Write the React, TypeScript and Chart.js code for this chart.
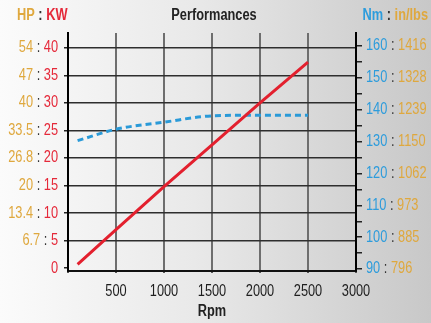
import React, { useEffect, useRef } from "react";
import { Chart, registerables } from "chart.js";

Chart.register(...registerables);

// ---- data ----
const RPM = [100, 500, 1000, 1500, 2000, 2500];
const POWER_KW = [0.7, 7, 14.8, 22.4, 30, 37.4];
const TORQUE_NM = [130.3, 133.9, 136.1, 138.1, 138.3, 138.3];

const X_TICKS = [500, 1000, 1500, 2000, 2500, 3000];
const KW_TICKS = [0, 5, 10, 15, 20, 25, 30, 35, 40];
const HP_LABELS = ["", "6.7", "13.4", "20", "26.8", "33.5", "40", "47", "54"];
const NM_TICKS = [90, 100, 110, 120, 130, 140, 150, 160];
const INLBS_LABELS = ["796", "885", "973", "1062", "1150", "1239", "1328", "1416"];

const TITLE = "Performances";
const X_TITLE = "Rpm";

const FONT = '"Liberation Sans", Arial, sans-serif';
const SX = 0.8; // horizontal condensation of the text
const GOLD = "#dfa83e";
const RED = "#e5293a";
const BLUE = "#2d9cdc";
const DARK = "#333333";

const bgPlugin = {
  id: "bgPlugin",
  beforeDraw(chart: any) {
    const { ctx, width, height } = chart;
    ctx.save();
    const g = ctx.createLinearGradient(0, 0, width, 0);
    g.addColorStop(0, "#fbfbfb");
    g.addColorStop(0.45, "#e9e9e9");
    g.addColorStop(1, "#c8c8c8");
    ctx.fillStyle = g;
    ctx.fillRect(0, 0, width, height);
    ctx.restore();
  },
};

function drawParts(ctx: any, parts: [string, string][], x: number, y: number, align: "left" | "right" | "center") {
  const widths = parts.map((p) => ctx.measureText(p[0]).width * SX);
  const total = widths.reduce((a, b) => a + b, 0);
  let cx = align === "left" ? x : align === "right" ? x - total : x - total / 2;
  parts.forEach((p, i) => {
    ctx.save();
    ctx.translate(cx, y);
    ctx.scale(SX, 1);
    ctx.textAlign = "left";
    ctx.fillStyle = p[1];
    ctx.fillText(p[0], 0, 0);
    ctx.restore();
    cx += widths[i];
  });
}

const textPlugin = {
  id: "textPlugin",
  afterDraw(chart: any) {
    const { ctx, chartArea } = chart;
    const xS = chart.scales.x;
    const yS = chart.scales.y;
    const y1S = chart.scales.y1;
    ctx.save();
    ctx.textBaseline = "middle";
    ctx.font = `16px ${FONT}`;
    KW_TICKS.forEach((v, i) => {
      const py = yS.getPixelForValue(v);
      const hp = HP_LABELS[i];
      const parts: [string, string][] = hp
        ? [[hp, GOLD], [" : ", DARK], [String(v), RED]]
        : [[String(v), RED]];
      drawParts(ctx, parts, 58, py, "right");
    });
    NM_TICKS.forEach((v, i) => {
      const py = y1S.getPixelForValue(v);
      drawParts(ctx, [[String(v), BLUE], [" : ", DARK], [INLBS_LABELS[i], GOLD]], 366, py, "left");
    });
    X_TICKS.forEach((v) => {
      drawParts(ctx, [[String(v), "#1e1e1e"]], xS.getPixelForValue(v), 292, "center");
    });
    ctx.font = `bold 16px ${FONT}`;
    drawParts(ctx, [[TITLE, "#222"]], 214, 16, "center");
    drawParts(ctx, [[X_TITLE, "#222"]], (chartArea.left + chartArea.right) / 2, 312, "center");
    drawParts(ctx, [["HP", GOLD], [" : ", DARK], ["KW", RED]], 17, 16, "left");
    drawParts(ctx, [["Nm", BLUE], [" : ", DARK], ["in/lbs", GOLD]], 428, 16, "right");
    ctx.restore();
  },
};

export default function App() {
  const ref = useRef<HTMLCanvasElement | null>(null);
  useEffect(() => {
    if (!ref.current) return;
    const chart = new Chart(ref.current, {
      type: "line",
      data: {
        datasets: [
          {
            label: "Power (kW)",
            data: RPM.map((x, i) => ({ x, y: POWER_KW[i] })),
            borderColor: "#e3202e",
            borderWidth: 3,
            pointRadius: 0,
            tension: 0,
            yAxisID: "y",
          },
          {
            label: "Torque (Nm)",
            data: RPM.map((x, i) => ({ x, y: TORQUE_NM[i] })),
            borderColor: "#2a9ad8",
            borderWidth: 3,
            borderDash: [6, 4],
            pointRadius: 0,
            cubicInterpolationMode: "monotone",
            yAxisID: "y1",
          },
        ],
      },
      options: {
        responsive: false,
        animation: false,
        layout: { padding: { top: 33, left: 0, right: 0, bottom: 0 } },
        plugins: { legend: { display: false }, tooltip: { enabled: false }, title: { display: false } },
        scales: {
          x: {
            type: "linear",
            min: 0,
            max: 3000,
            afterBuildTicks: (s: any) => {
              s.ticks = [0, ...X_TICKS].map((v) => ({ value: v }));
            },
            afterFit: (s: any) => {
              s.height = 52;
            },
            ticks: { display: false },
            grid: {
              color: (c: any) => (c.tick && (c.tick.value === 0 || c.tick.value === 3000) ? "rgba(0,0,0,0)" : "#6e6e6e"),
              lineWidth: 2,
              tickLength: 2,
              tickColor: "#555",
            },
            border: { display: true, color: "#111", width: 2 },
          },
          y: {
            type: "linear",
            position: "left",
            min: -0.5,
            max: 42.7,
            afterBuildTicks: (s: any) => {
              s.ticks = KW_TICKS.map((v) => ({ value: v }));
            },
            afterFit: (s: any) => {
              s.width = 68;
            },
            ticks: { display: false },
            grid: {
              color: (c: any) => (c.tick && c.tick.value === 0 ? "rgba(0,0,0,0)" : "#2e2e2e"),
              lineWidth: 1.5,
              tickLength: 4,
              tickColor: "#222",
            },
            border: { display: true, color: "#000", width: 2 },
          },
          y1: {
            type: "linear",
            position: "right",
            min: 89.4,
            max: 164.1,
            afterBuildTicks: (s: any) => {
              const t = [];
              for (let v = 90; v <= 160; v += 5) t.push({ value: v });
              s.ticks = t;
            },
            afterFit: (s: any) => {
              s.width = 75;
            },
            ticks: { display: false },
            grid: { drawOnChartArea: false, tickLength: 6, tickColor: "#222", lineWidth: 1.5 },
            border: { display: true, color: "#000", width: 2 },
          },
        },
      } as any,
      plugins: [bgPlugin, textPlugin],
    });
    return () => chart.destroy();
  }, []);
  return (
    <div style={{ position: "fixed", left: 0, top: 0, width: 431, height: 323 }}>
      <canvas ref={ref} width={431} height={323} style={{ width: 431, height: 323, display: "block" }} />
    </div>
  );
}
